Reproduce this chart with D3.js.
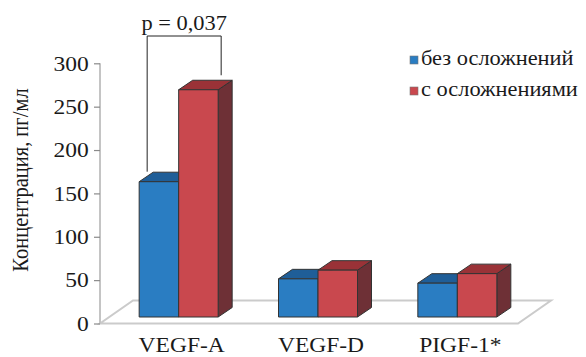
<!DOCTYPE html>
<html>
<head>
<meta charset="utf-8">
<script src="https://cdn.jsdelivr.net/npm/d3@7"></script>
<style>
  html, body { margin: 0; padding: 0; background: #fff; }
</style>
</head>
<body>
<div id="chart"></div>
<script>
// data
const categories = ['VEGF-A', 'VEGF-D', 'PIGF-1*'];
const seriesNames = ['без осложнений', 'с осложнениями'];
const noComplications = [156, 44, 39];
const withComplications = [262, 54, 50];
const yTicks = [0, 50, 100, 150, 200, 250, 300];
const pLabel = 'p = 0,037';

const W = 586, H = 357;
const FONT = 'Liberation Serif';
const SX = 1.12; // the original's type is a bit wide
const colors = [
  { front: '#2a7dc2', top: '#1f5e98', side: '#1b4f7e' },
  { front: '#c9484e', top: '#9a3237', side: '#6e3036' }
];

const svg = d3.select('#chart').append('svg')
  .attr('width', W).attr('height', H)
  .attr('font-family', FONT);

// places a wide text at (x, y)
function wideText(sel, x, y) {
  return sel.attr('transform', `translate(${x},${y}) scale(${SX},1)`);
}

const y = d3.scaleLinear().domain([0, 300]).range([323.5, 63.3]);
const x = d3.scaleBand().domain(categories).range([100, 518]);
const xs = d3.scaleBand().domain(seriesNames).range([-39.5, 39.5]);

// 3d offsets
const floorD = { dx: 33, dy: -23 };
const barD = { dx: 14, dy: -9.5 };
const lift = { dx: 9, dy: -6.5 };

// floor
const f0 = y(0);
svg.append('path')
  .attr('d', `M100,${f0} L518,${f0} L${518 + floorD.dx},${f0 + floorD.dy} L${100 + floorD.dx},${f0 + floorD.dy} Z`)
  .attr('fill', '#fff').attr('stroke', '#cbcbcb').attr('stroke-width', 2);

// y axis
const axis = svg.append('g').attr('transform', 'translate(100,0)')
  .call(d3.axisLeft(y).tickValues(yTicks).tickSize(6).tickPadding(4));
axis.attr('font-family', FONT).attr('font-size', 21);
axis.select('.domain').attr('stroke', '#c4c4c4').attr('stroke-width', 2)
  .attr('d', `M0,${y(300)}V${y(0)}`);
axis.selectAll('.tick line').attr('stroke', '#8a8a8a').attr('stroke-width', 1.2);
axis.selectAll('.tick text').attr('fill', '#1a1a1a').attr('font-family', FONT)
  .attr('transform', `scale(${SX},1)`);

svg.append('text')
  .attr('transform', `translate(28,180) rotate(-90) scale(1,${SX})`)
  .attr('text-anchor', 'middle')
  .attr('font-size', 20.5)
  .attr('fill', '#1a1a1a')
  .text('Концентрация, пг/мл');

// bars
const rows = [];
categories.forEach((c, i) => {
  rows.push({ cat: c, s: 0, v: noComplications[i] });
  rows.push({ cat: c, s: 1, v: withComplications[i] });
});

const bars = svg.append('g');
rows.forEach(d => {
  const cx = x(d.cat) + x.bandwidth() / 2;
  const x0 = cx + xs(seriesNames[d.s]) + lift.dx;
  const x1 = x0 + xs.bandwidth();
  const yb = y(0) + lift.dy;
  const yt = y(d.v) + lift.dy;
  const c = colors[d.s];
  const g = bars.append('g').attr('stroke', '#333').attr('stroke-width', 1).attr('stroke-linejoin', 'round');
  g.append('path')
    .attr('d', `M${x1},${yt} L${x1 + barD.dx},${yt + barD.dy} L${x1 + barD.dx},${yb + barD.dy} L${x1},${yb} Z`)
    .attr('fill', c.side);
  g.append('path')
    .attr('d', `M${x0},${yt} L${x0 + barD.dx},${yt + barD.dy} L${x1 + barD.dx},${yt + barD.dy} L${x1},${yt} Z`)
    .attr('fill', c.top);
  g.append('rect')
    .attr('x', x0).attr('y', yt).attr('width', x1 - x0).attr('height', yb - yt)
    .attr('fill', c.front);
});

// category labels
svg.append('g').selectAll('text').data(categories).join('text')
  .attr('text-anchor', 'middle')
  .attr('font-size', 21)
  .attr('fill', '#1a1a1a')
  .text(d => d)
  .each(function (d) { wideText(d3.select(this), x(d) + x.bandwidth() / 2 + 12, 352); });

// significance bracket
const aCx = x(categories[0]) + x.bandwidth() / 2 + lift.dx;
const bl = aCx + xs(seriesNames[0]) + 8;
const br = aCx + xs(seriesNames[1]) + xs.bandwidth() + 3;
const bTop = 36;
svg.append('path')
  .attr('d', `M${bl},${y(noComplications[0]) + lift.dy - 10} V${bTop} H${br} V${y(withComplications[0]) + lift.dy + barD.dy - 5}`)
  .attr('fill', 'none').attr('stroke', '#222').attr('stroke-width', 1);
wideText(svg.append('text'), (bl + br) / 2, 30)
  .attr('text-anchor', 'middle').attr('font-size', 20)
  .attr('fill', '#1a1a1a')
  .text(pLabel);

// legend
const legend = svg.append('g').selectAll('g').data(seriesNames).join('g')
  .attr('transform', (d, i) => `translate(410,${56 + i * 31})`);
legend.append('rect')
  .attr('width', 8).attr('height', 8)
  .attr('fill', (d, i) => colors[i].front)
  .attr('stroke', '#777').attr('stroke-width', 0.6);
legend.append('text')
  .attr('font-size', 20)
  .attr('fill', '#1a1a1a')
  .text(d => d)
  .each(function () { wideText(d3.select(this), 11, 9); });
</script>
</body>
</html>
